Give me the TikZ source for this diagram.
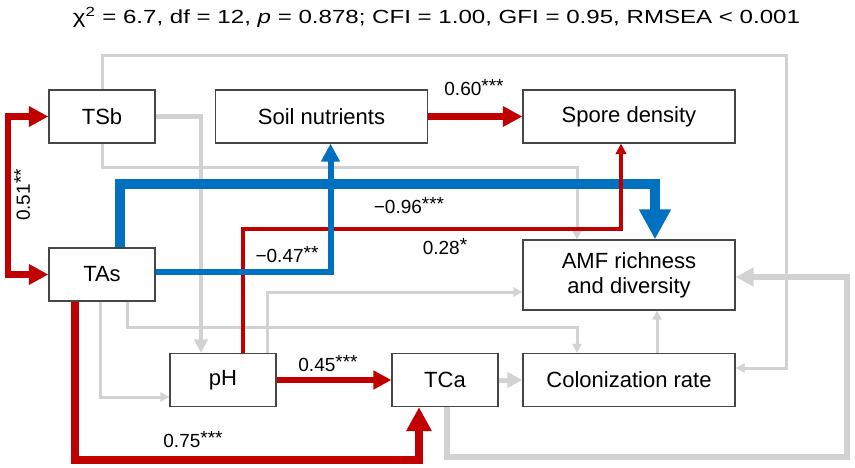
\documentclass[tikz,border=0pt]{standalone}
\usepackage{fontspec}
\setmainfont{Liberation Sans}
\usetikzlibrary{arrows.meta}
\definecolor{sigred}{RGB}{192,0,0}
\definecolor{sigblue}{RGB}{0,112,192}
\definecolor{nsgray}{RGB}{210,210,210}
\definecolor{boxline}{RGB}{70,70,70}
\newcommand{\signif}[1]{\raisebox{2.5pt}{#1}}

\begin{document}
\begin{tikzpicture}[x=1pt,y=-1pt,>={Triangle[length=0pt 3,width=0pt 3]},
		box/.style={draw=boxline,line width=1.2pt,fill=white,minimum width=106pt,minimum height=53pt,align=center,font=\fontsize{22}{25}\selectfont},
		wide/.style={box,minimum width=212pt},
		coef/.style={anchor=base,inner sep=0pt,font=\fontsize{19}{21}\selectfont},
		greypath/.style={draw=nsgray,line width=3pt,->},
		redpath/.style={draw=sigred,->},
		bluepath/.style={draw=sigblue,->}]
			\useasboundingbox (0,0) rectangle (855,467);
			\node (fit) [coef] at (436.5,23) {\resizebox{727pt}{\height}{χ\textsuperscript{2} = 6.7, df = 12, \textit{p} = 0.878; CFI = 1.00, GFI = 0.95, RMSEA < 0.001}};

			\node (TSb) [box] at (102,116.5) {TSb};
			\node (SN) [wide,right of=TSb,node distance=219.5pt] {Soil nutrients};
			\node (SD) [wide,right of=SN,node distance=307.5pt] {Spore density};
			\node (TAs) [box,below of=TSb,node distance=158pt] {TAs};
			\node (AMF) [wide,minimum height=70pt,below of=SD,node distance=158.5pt] {AMF richness\\and diversity};
			\node (CR) [wide,below of=AMF,node distance=105pt] {Colonization rate};
			\node (TCa) [box,left of=CR,node distance=184pt] {TCa};
			\node (pH) [box,left of=TCa,node distance=222pt] {pH};

			\draw [greypath] (TSb.north) |- (786,55) |- ([yshift=12pt]CR.east);
			\draw [greypath,line width=4.5pt] (TSb.east) -| ([xshift=-22pt]pH.north);
			\draw [greypath] (TSb.south) -- ++(0,23.5) -| ([xshift=-52pt]AMF.north);
			\draw [greypath] ([xshift=-2pt]TAs.south) |- ([yshift=-17pt]pH.west);
			\draw [greypath] ([xshift=25pt]TAs.south) -- ++(0,26) -| ([xshift=-52pt]CR.north);
			\draw [greypath] ([xshift=44pt]pH.north) |- ([yshift=-17pt]AMF.west);
			\draw [greypath,line width=5pt] (TCa.east) -- (CR.west);
			\draw [greypath] ([xshift=28pt]CR.north) -- ([xshift=28pt]AMF.south);
			\draw [greypath,line width=6pt] ([xshift=2pt]TCa.south) |- (847,457) |- ([yshift=-2pt]AMF.east);

			\draw [bluepath,line width=10pt] ([xshift=17.5pt]TAs.north) -- ++(0,-63) -| ([xshift=26pt]AMF.north);
			\draw [redpath,line width=3.5pt] ([xshift=20pt]pH.north) -- ++(0,-124) -| ([xshift=-8pt]SD.south);
			\draw [bluepath,line width=6pt] ([yshift=2.5pt]TAs.east) -| ([xshift=9pt]SN.south);
			\draw [redpath,line width=6.5pt] (SN.east) -- (SD.west);
			\draw [redpath,line width=6pt] (pH.east) -- (TCa.west);
			\draw [redpath,line width=8pt] ([xshift=-27pt]TAs.south) -- ++(0,158) -| ([xshift=-26pt]TCa.south);
			\draw [redpath,line width=6.5pt,<->] (TSb.west) -| (8,195) |- (TAs.west);

			\node (w051) [coef,rotate=90] at (30,195) {0.51\signif{**}};
			\node (w060) [coef] at (474,95) {0.60\signif{***}};
			\node (w096) [coef] at (409,213) {−0.96\signif{***}};
			\node (w028) [coef] at (445,254) {0.28\signif{*}};
			\node (w047) [coef] at (287,262) {−0.47\signif{**}};
			\node (w045) [coef] at (328,371) {0.45\signif{***}};
			\node (w075) [coef] at (193,447) {0.75\signif{***}};
		\end{tikzpicture}
\end{document}
